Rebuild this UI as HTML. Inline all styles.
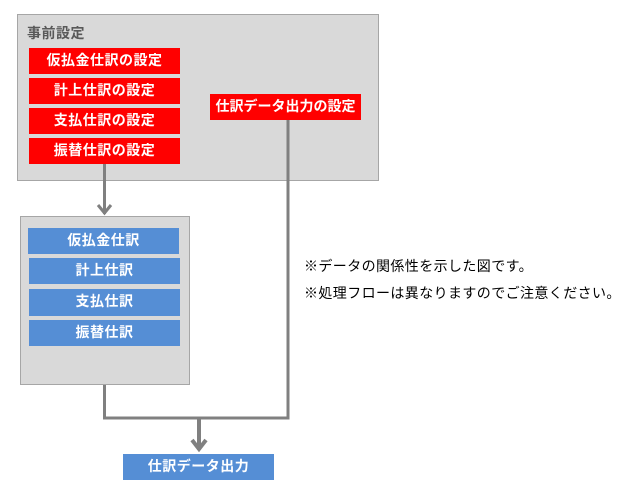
<!DOCTYPE html>
<html><head><meta charset="utf-8"><style>
body{margin:0;width:634px;height:485px;background:#fff;position:relative;overflow:hidden;font-family:"Liberation Sans","Noto Sans CJK JP",sans-serif;}
.a{position:absolute;box-sizing:border-box;}
.g{background:#d9d9d9;border:1px solid #a6a6a6;}
.r{background:#ff0000;color:#fff;font-weight:bold;font-size:14px;letter-spacing:0.5px;text-align:center;line-height:25px;white-space:nowrap;}
.b{background:#558ed5;color:#fff;font-weight:bold;font-size:14px;letter-spacing:0.5px;text-align:center;line-height:25px;}
.t{font-size:14px;letter-spacing:0.4px;color:#000;white-space:nowrap;}
</style></head><body>
<div class="a g" style="left:17px;top:14px;width:362px;height:167px"></div>
<div class="a" style="left:27px;top:23px;font-size:14px;letter-spacing:0.5px;font-weight:bold;color:#595959">事前設定</div>
<div class="a r" style="left:29px;top:48px;width:151px;height:26px">仮払金仕訳の設定</div>
<div class="a r" style="left:29px;top:78px;width:151px;height:26px">計上仕訳の設定</div>
<div class="a r" style="left:29px;top:108px;width:151px;height:26px">支払仕訳の設定</div>
<div class="a r" style="left:29px;top:138px;width:151px;height:26px">振替仕訳の設定</div>
<div class="a r" style="left:210px;top:94px;width:151px;height:26px;letter-spacing:0">仕訳データ出力の設定</div>
<div class="a g" style="left:20px;top:216px;width:170px;height:169px"></div>
<div class="a b" style="left:28px;top:228px;width:151px;height:26px">仮払金仕訳</div>
<div class="a b" style="left:29px;top:258px;width:151px;height:26px">計上仕訳</div>
<div class="a b" style="left:29px;top:289px;width:151px;height:27px">支払仕訳</div>
<div class="a b" style="left:29px;top:320px;width:151px;height:26px">振替仕訳</div>
<div class="a b" style="left:123px;top:454px;width:151px;height:26px">仕訳データ出力</div>
<svg class="a" style="left:0;top:0" width="634" height="485">
<g stroke="#808080" fill="none" stroke-width="3">
<line x1="104.5" y1="164" x2="104.5" y2="214"/>
<polyline points="98,205 104.5,213 111,205"/>
<polyline points="104.5,385 104.5,418 288,418 288,120"/>
<line x1="199" y1="418" x2="199" y2="450" stroke-width="4"/>
<polyline points="192,440 199,449 206,440" stroke-width="4"/>
</g></svg>
<div class="a t" style="left:304px;top:256px">※データの関係性を示した図です。</div>
<div class="a t" style="left:304px;top:283px">※処理フローは異なりますのでご注意ください。</div>
</body></html>
